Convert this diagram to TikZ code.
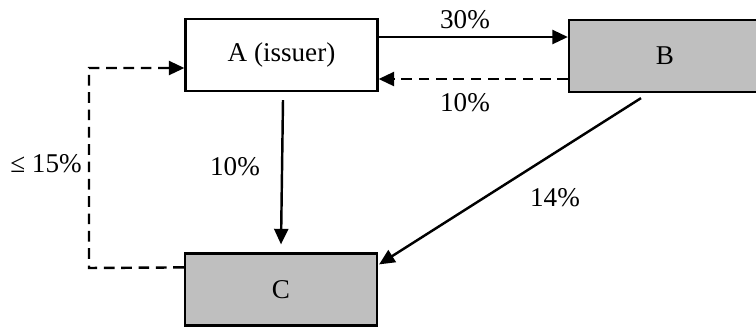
\documentclass[tikz,border=0pt]{standalone}
\usepackage{fontspec}
\setmainfont{Liberation Serif}
\usetikzlibrary{arrows.meta,calc}

\tikzset{
  box/.style={draw=black, line width=1pt, minimum width=86.4pt, minimum height=32.4pt,
              inner sep=0pt, font=\fontsize{12.2}{14}\selectfont},
  shaded/.style={box, fill=black!25},
  flow/.style={line width=1.1pt, -{Triangle[length=7pt,width=6.3pt]}},
  loan/.style={flow, dash pattern=on 4.8pt off 3pt},
  pct/.style={font=\fontsize{12.2}{14}\selectfont, inner sep=0pt}
}

\begin{document}
\begin{tikzpicture}[x=0.45pt, y=-0.45pt]
  \clip (0,0) rectangle (756,329);

  % parties
  \node[box]    (A) at (281.5,55)  {\raisebox{-3.6pt}{A (issuer)}};
  \node[shaded] (B) at (665,56)    {\raisebox{-2.2pt}{B}};
  \node[shaded] (C) at (281,289.5) {\raisebox{-3.2pt}{C}};

  % A -> B holding and B -> A return
  \draw[flow] ($(A.east)+(0,-18)$) -- ($(B.west)+(0,-19)$);
  \draw[loan] ($(B.west)+(0,23)$) -- ($(A.east)+(0,24)$);

  % A -> C and B -> C holdings
  \draw[flow] ($(A.south)+(1.5,8)$) -- ($(C.north)+(0,-8)$);
  \draw[flow] ($(B.south)+(-24,5)$) -- ($(C.north east)+(1,12)$);

  % C -> A return route
  \coordinate (cl) at ($(C.north west)+(0,15)$);
  \coordinate (al) at ($(A.west)+(0,13)$);
  \draw[loan] (cl) -- (89,268) -- (89,68) -- (al);

  % shares
  \node[pct] (l30)  at (465,20)  {30\%};
  \node[pct] (l10a) at (465,103) {10\%};
  \node[pct] (l10b) at (235,167) {10\%};
  \node[pct] (l14)  at (555,198) {14\%};
  \node[pct] (l15)  at (46,164)  {≤ 15\%};
\end{tikzpicture}
\end{document}
